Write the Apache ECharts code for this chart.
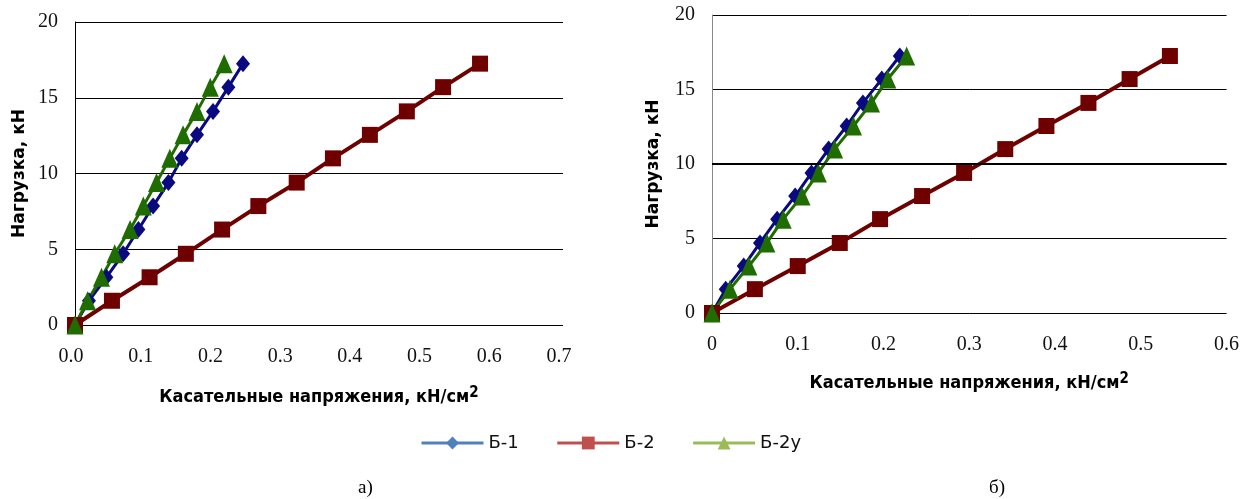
<!DOCTYPE html>
<html><head><meta charset="utf-8">
<script src="https://cdn.jsdelivr.net/npm/echarts@6/dist/echarts.min.js"></script>
<style>html,body{margin:0;padding:0;background:#fff}#c{width:1242px;height:499px}</style>
</head><body><div id="c"></div>
<script>
// Load steps (kN), shared by all series
const load = [0, 1.6, 3.15, 4.7, 6.3, 7.85, 9.4, 11.0, 12.55, 14.1, 15.7, 17.25];
// Chart a): shear stress, kN/cm2
const aB1  = [0, 0.020, 0.045, 0.069, 0.091, 0.112, 0.134, 0.153, 0.175, 0.198, 0.220, 0.241];
const aB2  = [0, 0.053, 0.107, 0.159, 0.211, 0.263, 0.318, 0.370, 0.423, 0.476, 0.528, 0.581];
const aB2u = [0, 0.018, 0.038, 0.057, 0.079, 0.098, 0.117, 0.136, 0.155, 0.175, 0.194, 0.214];
// Chart б)
const bB1  = [0, 0.016, 0.037, 0.056, 0.076, 0.097, 0.116, 0.136, 0.157, 0.176, 0.198, 0.219];
const bB2  = [0, 0.050, 0.100, 0.149, 0.196, 0.245, 0.294, 0.342, 0.390, 0.439, 0.487, 0.534];
const bB2u = [0, 0.021, 0.043, 0.064, 0.083, 0.105, 0.124, 0.143, 0.165, 0.186, 0.205, 0.227];
const names = ['Б-1', 'Б-2', 'Б-2у'];
const legendColors = ['#4F81BD', '#C0504D', '#9BBB59'];
const xTitle = 'Касательные напряжения, кН/см';
const yTitle = 'Нагрузка, кН';

const pair = (xs) => xs.map((x, i) => [x, load[i]]);
const styles = [
  {color: '#0A0A80', width: 3, symbol: 'diamond', size: [14, 17]},
  {color: '#6E0000', width: 4, symbol: 'rect', size: 16},
  {color: '#1F6C00', width: 3, symbol: 'triangle', size: [17, 19]}
];
function mk(name, xs, idx, st) {
  return {
    name, type: 'line', xAxisIndex: idx, yAxisIndex: idx, data: pair(xs),
    symbol: st.symbol, symbolSize: st.size, showSymbol: true,
    itemStyle: {color: st.color}, lineStyle: {color: st.color, width: st.width},
    emphasis: {disabled: true}, z: 3
  };
}
const tickFont = {fontFamily: 'Liberation Serif', fontSize: 20, color: '#111'};
const xName = {
  fontFamily: '"DejaVu Sans Condensed", "DejaVu Sans"', fontWeight: 'bold', fontSize: 18, color: '#000',
  rich: {sup: {fontFamily: '"DejaVu Sans Condensed", "DejaVu Sans"', fontWeight: 'bold', fontSize: 15, verticalAlign: 'top', padding: [0, 0, 8, 0], color: '#000'}}
};
const yName = {fontFamily: 'DejaVu Sans', fontWeight: 'bold', fontSize: 17, color: '#000'};

function xAxis(idx, max, gap, fmt, labelPad) {
  return {
    gridIndex: idx, type: 'value', min: 0, max, interval: 0.1,
    axisLine: {show: false}, axisTick: {show: false}, splitLine: {show: false},
    axisLabel: Object.assign({margin: 22, formatter: fmt, padding: labelPad}, tickFont),
    name: xTitle + '{sup|2}', nameLocation: 'middle', nameGap: gap, nameTextStyle: xName
  };
}
function yAxis(idx, lineColor, gap) {
  return {
    gridIndex: idx, type: 'value', min: 0, max: 20, interval: 5,
    axisLine: {show: true, lineStyle: {color: lineColor, width: 1}}, axisTick: {show: false},
    splitLine: {show: true, lineStyle: {color: '#000', width: 1}},
    axisLabel: Object.assign({margin: 17}, tickFont),
    name: yTitle, nameLocation: 'middle', nameRotate: 90, nameGap: gap, nameTextStyle: yName
  };
}

const chart = echarts.init(document.getElementById('c'), null, {renderer: 'canvas'});
chart.setOption({
  animation: false,
  backgroundColor: '#fff',
  grid: [
    {left: 75, top: 22, width: 488, height: 303},
    {left: 712, top: 15, width: 516, height: 298}
  ],
  xAxis: [
    xAxis(0, 0.7, 61, v => v.toFixed(1), [0, 8, 0, 0]),
    xAxis(1, 0.6, 59, v => (v === 0 ? '0' : v.toFixed(1)), 0)
  ],
  yAxis: [yAxis(0, '#000', 47), yAxis(1, '#888', 50)],
  legend: {
    left: 415, top: 429, itemWidth: 62, itemHeight: 16, itemGap: 37,
    textStyle: {fontFamily: 'DejaVu Sans', fontSize: 18, color: '#111', width: 40},
    data: names.map((n, i) => ({name: n, itemStyle: {color: legendColors[i]}, lineStyle: {color: legendColors[i], width: 3}}))
  },
  graphic: [
    {type: 'text', left: 358, top: 479, style: {text: 'а)', font: '19px "Liberation Serif"', fill: '#000'}},
    {type: 'text', left: 989, top: 479, style: {text: 'б)', font: '19px "Liberation Serif"', fill: '#000'}}
  ],
  series: [
    {type: 'line', xAxisIndex: 1, yAxisIndex: 1, data: [], z: 1, silent: true,
     markLine: {silent: true, symbol: 'none', label: {show: false}, lineStyle: {color: '#000', width: 2, type: 'solid'}, data: [{yAxis: 10}]}},
    mk(names[0], aB1, 0, styles[0]),
    mk(names[1], aB2, 0, styles[1]),
    mk(names[2], aB2u, 0, styles[2]),
    mk(names[0], bB1, 1, styles[0]),
    mk(names[1], bB2, 1, styles[1]),
    mk(names[2], bB2u, 1, styles[2])
  ]
});
</script></body></html>
